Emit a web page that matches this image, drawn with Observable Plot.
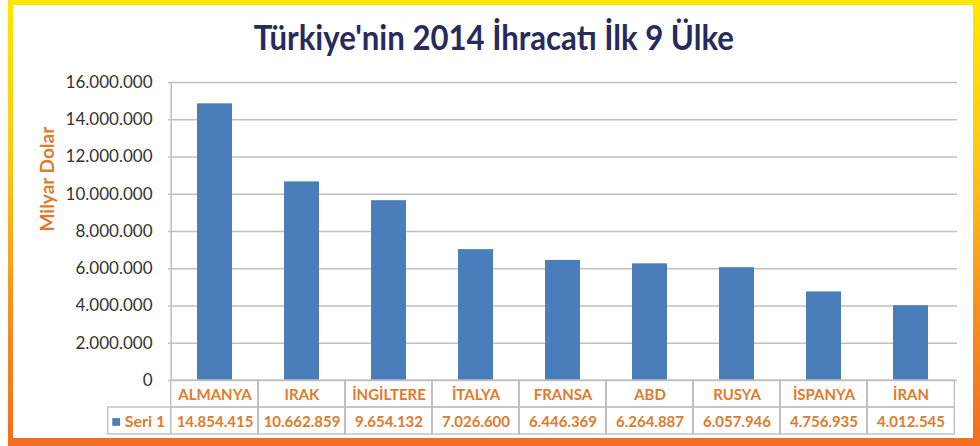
<!DOCTYPE html>
<html>
<head>
<meta charset="utf-8">
<script src="https://cdn.jsdelivr.net/npm/d3@7"></script>
<script src="https://cdn.jsdelivr.net/npm/@observablehq/plot@0.6"></script>
<style>
  html, body { margin: 0; padding: 0; background: #fff; }
  #wrap { position: relative; width: 980px; height: 446px; overflow: hidden; background: #fff; }
  #frame {
    position: absolute; left: 8px; top: 0; width: 960px; height: 433px;
    border-style: solid; border-width: 5px 7px 8px 5px;
    border-image: linear-gradient(to bottom, #ffe600 0%, #fcc816 35%, #f7901e 70%, #f26f21 100%) 1;
  }
  #title {
    position: absolute; left: 0; width: 988px; top: 16px; text-align: center;
    font-family: Lato, sans-serif; font-weight: 700; font-size: 35px; color: #272a5c;
    line-height: 40px;
  }
  #title span { display: inline-block; transform: scaleX(0.89); transform-origin: center; }
  #chart { position: absolute; left: 0; top: 60px; }
</style>
</head>
<body>
<div id="wrap">
  <div id="frame"></div>
  <div id="title"><span>Türkiye'nin 2014 İhracatı İlk 9 Ülke</span></div>
  <div id="chart"></div>
</div>
<script>
const countries = ["ALMANYA", "IRAK", "İNGİLTERE", "İTALYA", "FRANSA", "ABD", "RUSYA", "İSPANYA", "İRAN"];
const exports2014 = [14854415, 10662859, 9654132, 7026600, 6446369, 6264887, 6057946, 4756935, 4012545];
const yTicks = [0, 2000000, 4000000, 6000000, 8000000, 10000000, 12000000, 14000000, 16000000];
const seriesName = "Seri 1";
const yLabel = "Milyar Dolar";

const data = countries.map((c, i) => ({country: c, value: exports2014[i]}));
const fmt = d3.formatLocale({decimal: ",", thousands: ".", grouping: [3], currency: ["", ""]}).format(",d");

const W = 980, H = 378, mL = 168, mR = 23, mT = 22, mB = 58;
const pad = 0.6;
const step = (W - mL - mR) / countries.length;
const half = step / 2;
const rowH = 27;
const orange = "#e07a2c";
const blue = "#4a7ebb";
const gridC = "#c0c0c0";

const chart = Plot.plot({
  width: W, height: H,
  marginLeft: mL, marginRight: mR, marginTop: mT, marginBottom: mB,
  style: {fontFamily: "Lato, sans-serif", background: "transparent", overflow: "visible"},
  x: {type: "band", domain: countries, paddingInner: pad, paddingOuter: pad / 2, axis: null},
  y: {domain: [0, 16000000], axis: null},
  marks: [
    Plot.ruleY(yTicks, {stroke: gridC, strokeWidth: 1.6}),
    Plot.ruleX([countries[0]], {y1: 0, y2: 16000000, dx: -half, stroke: gridC, strokeWidth: 1.6}),
    Plot.axisY({ticks: yTicks, tickSize: 0, tickPadding: 16, tickFormat: fmt, fontSize: 17, fill: "#333", label: null}),
    Plot.text([yLabel], {frameAnchor: "left", rotate: -90, dx: -121, fill: orange, fontWeight: "bold", fontSize: 19}),
    Plot.barY(data, {x: "country", y: "value", fill: blue}),
    // data table: category row
    Plot.barY(countries, {x: d => d, y1: 0, y2: 0, insetLeft: -step * pad / 2, insetRight: -step * pad / 2, insetBottom: -rowH, fill: "none", stroke: gridC, strokeWidth: 1.4}),
    // data table: value row
    Plot.barY(countries, {x: d => d, y1: 0, y2: 0, insetLeft: -step * pad / 2, insetRight: -step * pad / 2, insetTop: rowH, insetBottom: -2 * rowH, fill: "none", stroke: gridC, strokeWidth: 1.4}),
    // series cell
    Plot.barY([countries[0]], {x: d => d, y1: 0, y2: 0, insetLeft: -step * pad / 2 - 63, insetRight: step * (1 - pad) + step * pad / 2, insetTop: rowH, insetBottom: -2 * rowH, fill: "none", stroke: gridC, strokeWidth: 1.4}),
    Plot.text(countries, {x: d => d, y: 0, dy: rowH / 2 + 1, fill: orange, fontWeight: "bold", fontSize: 15}),
    Plot.text(data, {x: "country", y: 0, text: d => fmt(d.value), dy: rowH * 1.5 + 1, fill: orange, fontWeight: "bold", fontSize: 15}),
    Plot.text([seriesName], {x: () => countries[0], y: 0, text: d => d, dx: -half - 6, dy: rowH * 1.5 + 1, textAnchor: "end", fill: orange, fontWeight: "bold", fontSize: 16}),
    Plot.dot([seriesName], {x: () => countries[0], y: 0, dx: -half - 55, dy: rowH * 1.5 + 1, symbol: "square", r: 4.4, fill: blue})
  ]
});
document.getElementById("chart").appendChild(chart);
</script>
</body>
</html>
